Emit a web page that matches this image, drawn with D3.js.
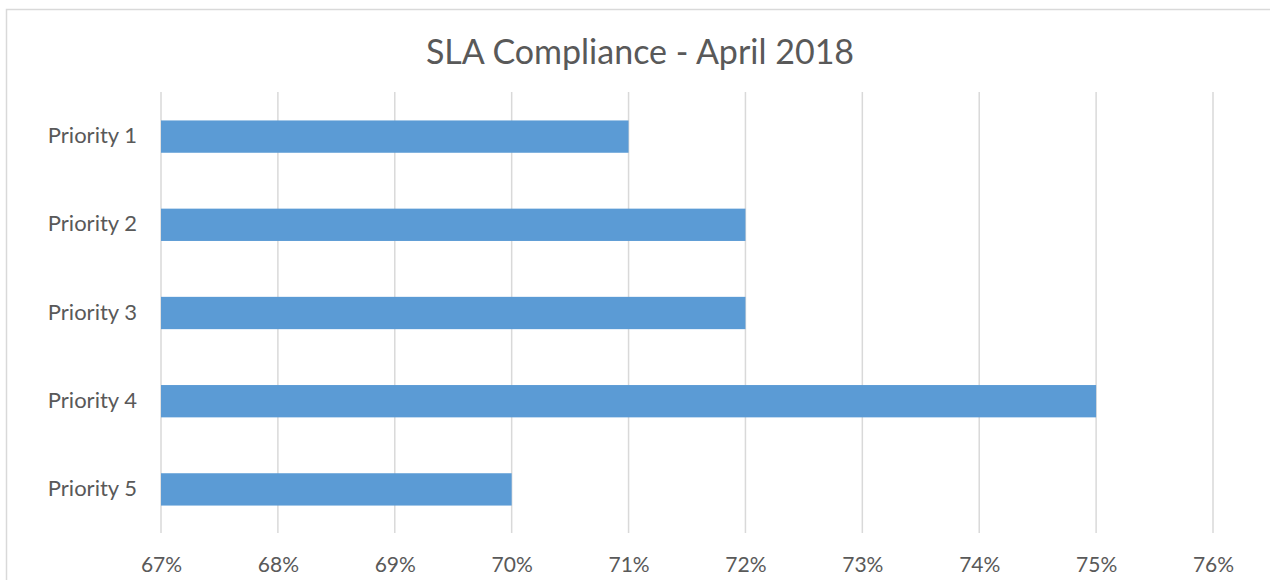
<!DOCTYPE html>
<html>
<head>
<meta charset="utf-8">
<script src="https://cdn.jsdelivr.net/npm/d3@7"></script>
<style>
  body { margin: 0; background: #fff; }
  text { font-family: Lato, "Open Sans", sans-serif; fill: #595959; }
</style>
</head>
<body>
<div id="chart"></div>
<script>
// data
const categories = ['Priority 1', 'Priority 2', 'Priority 3', 'Priority 4', 'Priority 5'];
const values = [0.71, 0.72, 0.72, 0.75, 0.70];
const xTicks = [0.67, 0.68, 0.69, 0.70, 0.71, 0.72, 0.73, 0.74, 0.75, 0.76];
const title = 'SLA Compliance - April 2018';

const width = 1270;
const height = 580;

const svg = d3.select('#chart')
  .append('svg')
  .attr('width', width)
  .attr('height', height);

// chart border
svg.append('rect')
  .attr('x', 6.5)
  .attr('y', 9.5)
  .attr('width', width)
  .attr('height', height)
  .attr('fill', 'none')
  .attr('stroke', '#d9d9d9')
  .attr('stroke-width', 1.5);

const plot = { left: 161, right: 1213, top: 92, bottom: 533 };

const x = d3.scaleLinear()
  .domain([0.67, 0.76])
  .range([plot.left, plot.right]);

const y = d3.scaleBand()
  .domain(categories)
  .range([plot.top, plot.bottom])
  .paddingInner(0.645)
  .paddingOuter(0.3225);

// gridlines
svg.append('g')
  .selectAll('line')
  .data(xTicks)
  .enter()
  .append('line')
  .attr('x1', d => x(d))
  .attr('x2', d => x(d))
  .attr('y1', plot.top)
  .attr('y2', plot.bottom)
  .attr('stroke', '#d9d9d9')
  .attr('stroke-width', 1.5);

// bars
svg.append('g')
  .selectAll('rect')
  .data(categories)
  .enter()
  .append('rect')
  .attr('x', x(0.67))
  .attr('y', d => y(d))
  .attr('width', (d, i) => x(values[i]) - x(0.67))
  .attr('height', y.bandwidth() + 1)
  .attr('fill', '#5b9bd5');

// x axis labels
const xAxis = d3.axisBottom(x)
  .tickValues(xTicks)
  .tickFormat(d3.format('.0%'))
  .tickSize(0)
  .tickPadding(0);

const gx = svg.append('g')
  .attr('transform', 'translate(0,' + 565 + ')')
  .call(xAxis);
gx.select('.domain').remove();
gx.selectAll('text')
  .attr('dy', '0.35em')
  .attr('font-size', 21)
  .attr('fill', '#595959');

// y axis labels
const yAxis = d3.axisLeft(y).tickSize(0).tickPadding(24);
const gy = svg.append('g')
  .attr('transform', 'translate(' + plot.left + ',0)')
  .call(yAxis);
gy.select('.domain').remove();
gy.selectAll('text')
  .attr('font-size', 22)
  .attr('fill', '#595959');

// title
svg.append('text')
  .attr('x', 640)
  .attr('y', 52)
  .attr('dy', '0.35em')
  .attr('text-anchor', 'middle')
  .attr('font-size', 34)
  .text(title);
</script>
</body>
</html>
